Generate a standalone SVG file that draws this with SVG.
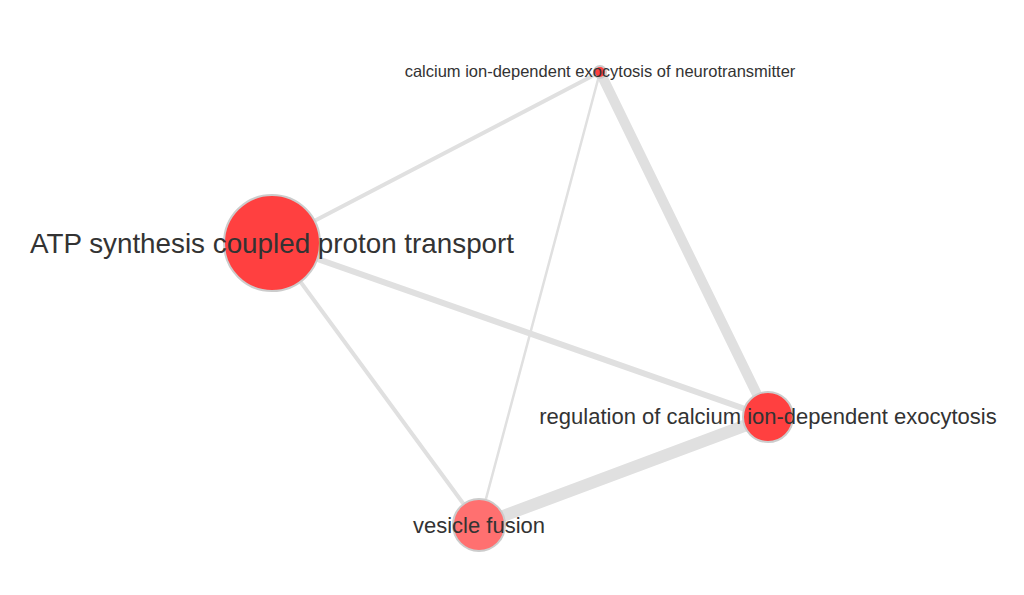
<svg xmlns="http://www.w3.org/2000/svg" width="1024" height="595" viewBox="0 0 1024 595">
<style>
.edge{stroke:#e0e0e0;stroke-linecap:round;fill:none}
.node{stroke:#cccccc;stroke-width:2}
.lbl{font-family:"Liberation Sans",Arial,Helvetica,sans-serif;fill:#333333;text-anchor:middle}
</style>
<rect width="1024" height="595" fill="#ffffff"/>
<g id="edges">
<line class="edge" x1="272" y1="243" x2="600" y2="72" stroke-width="4"/>
<line class="edge" x1="272" y1="243" x2="768" y2="417" stroke-width="6"/>
<line class="edge" x1="272" y1="243" x2="479" y2="525" stroke-width="4"/>
<line class="edge" x1="600" y1="72" x2="768" y2="417" stroke-width="10"/>
<line class="edge" x1="600" y1="72" x2="479" y2="525" stroke-width="2.5"/>
<line class="edge" x1="768" y1="417" x2="479" y2="525" stroke-width="12"/>
</g>
<g id="node-atp">
<circle class="node" cx="272" cy="243" r="48" fill="#ff4040"/>
<text class="lbl" x="272" y="253" font-size="27.8">ATP synthesis coupled proton transport</text>
</g>
<g id="node-calcium">
<circle class="node" cx="600" cy="72" r="6" fill="#ff4040" stroke-width="1"/>
<text class="lbl" x="600" y="77" font-size="16.5">calcium ion-dependent exocytosis of neurotransmitter</text>
</g>
<g id="node-regulation">
<circle class="node" cx="768" cy="417" r="25" fill="#ff4040"/>
<text class="lbl" x="768" y="424" font-size="22">regulation of calcium ion-dependent exocytosis</text>
</g>
<g id="node-vesicle">
<circle class="node" cx="479" cy="525" r="26" fill="#ff7070"/>
<text class="lbl" x="479" y="533" font-size="22">vesicle fusion</text>
</g>
</svg>
